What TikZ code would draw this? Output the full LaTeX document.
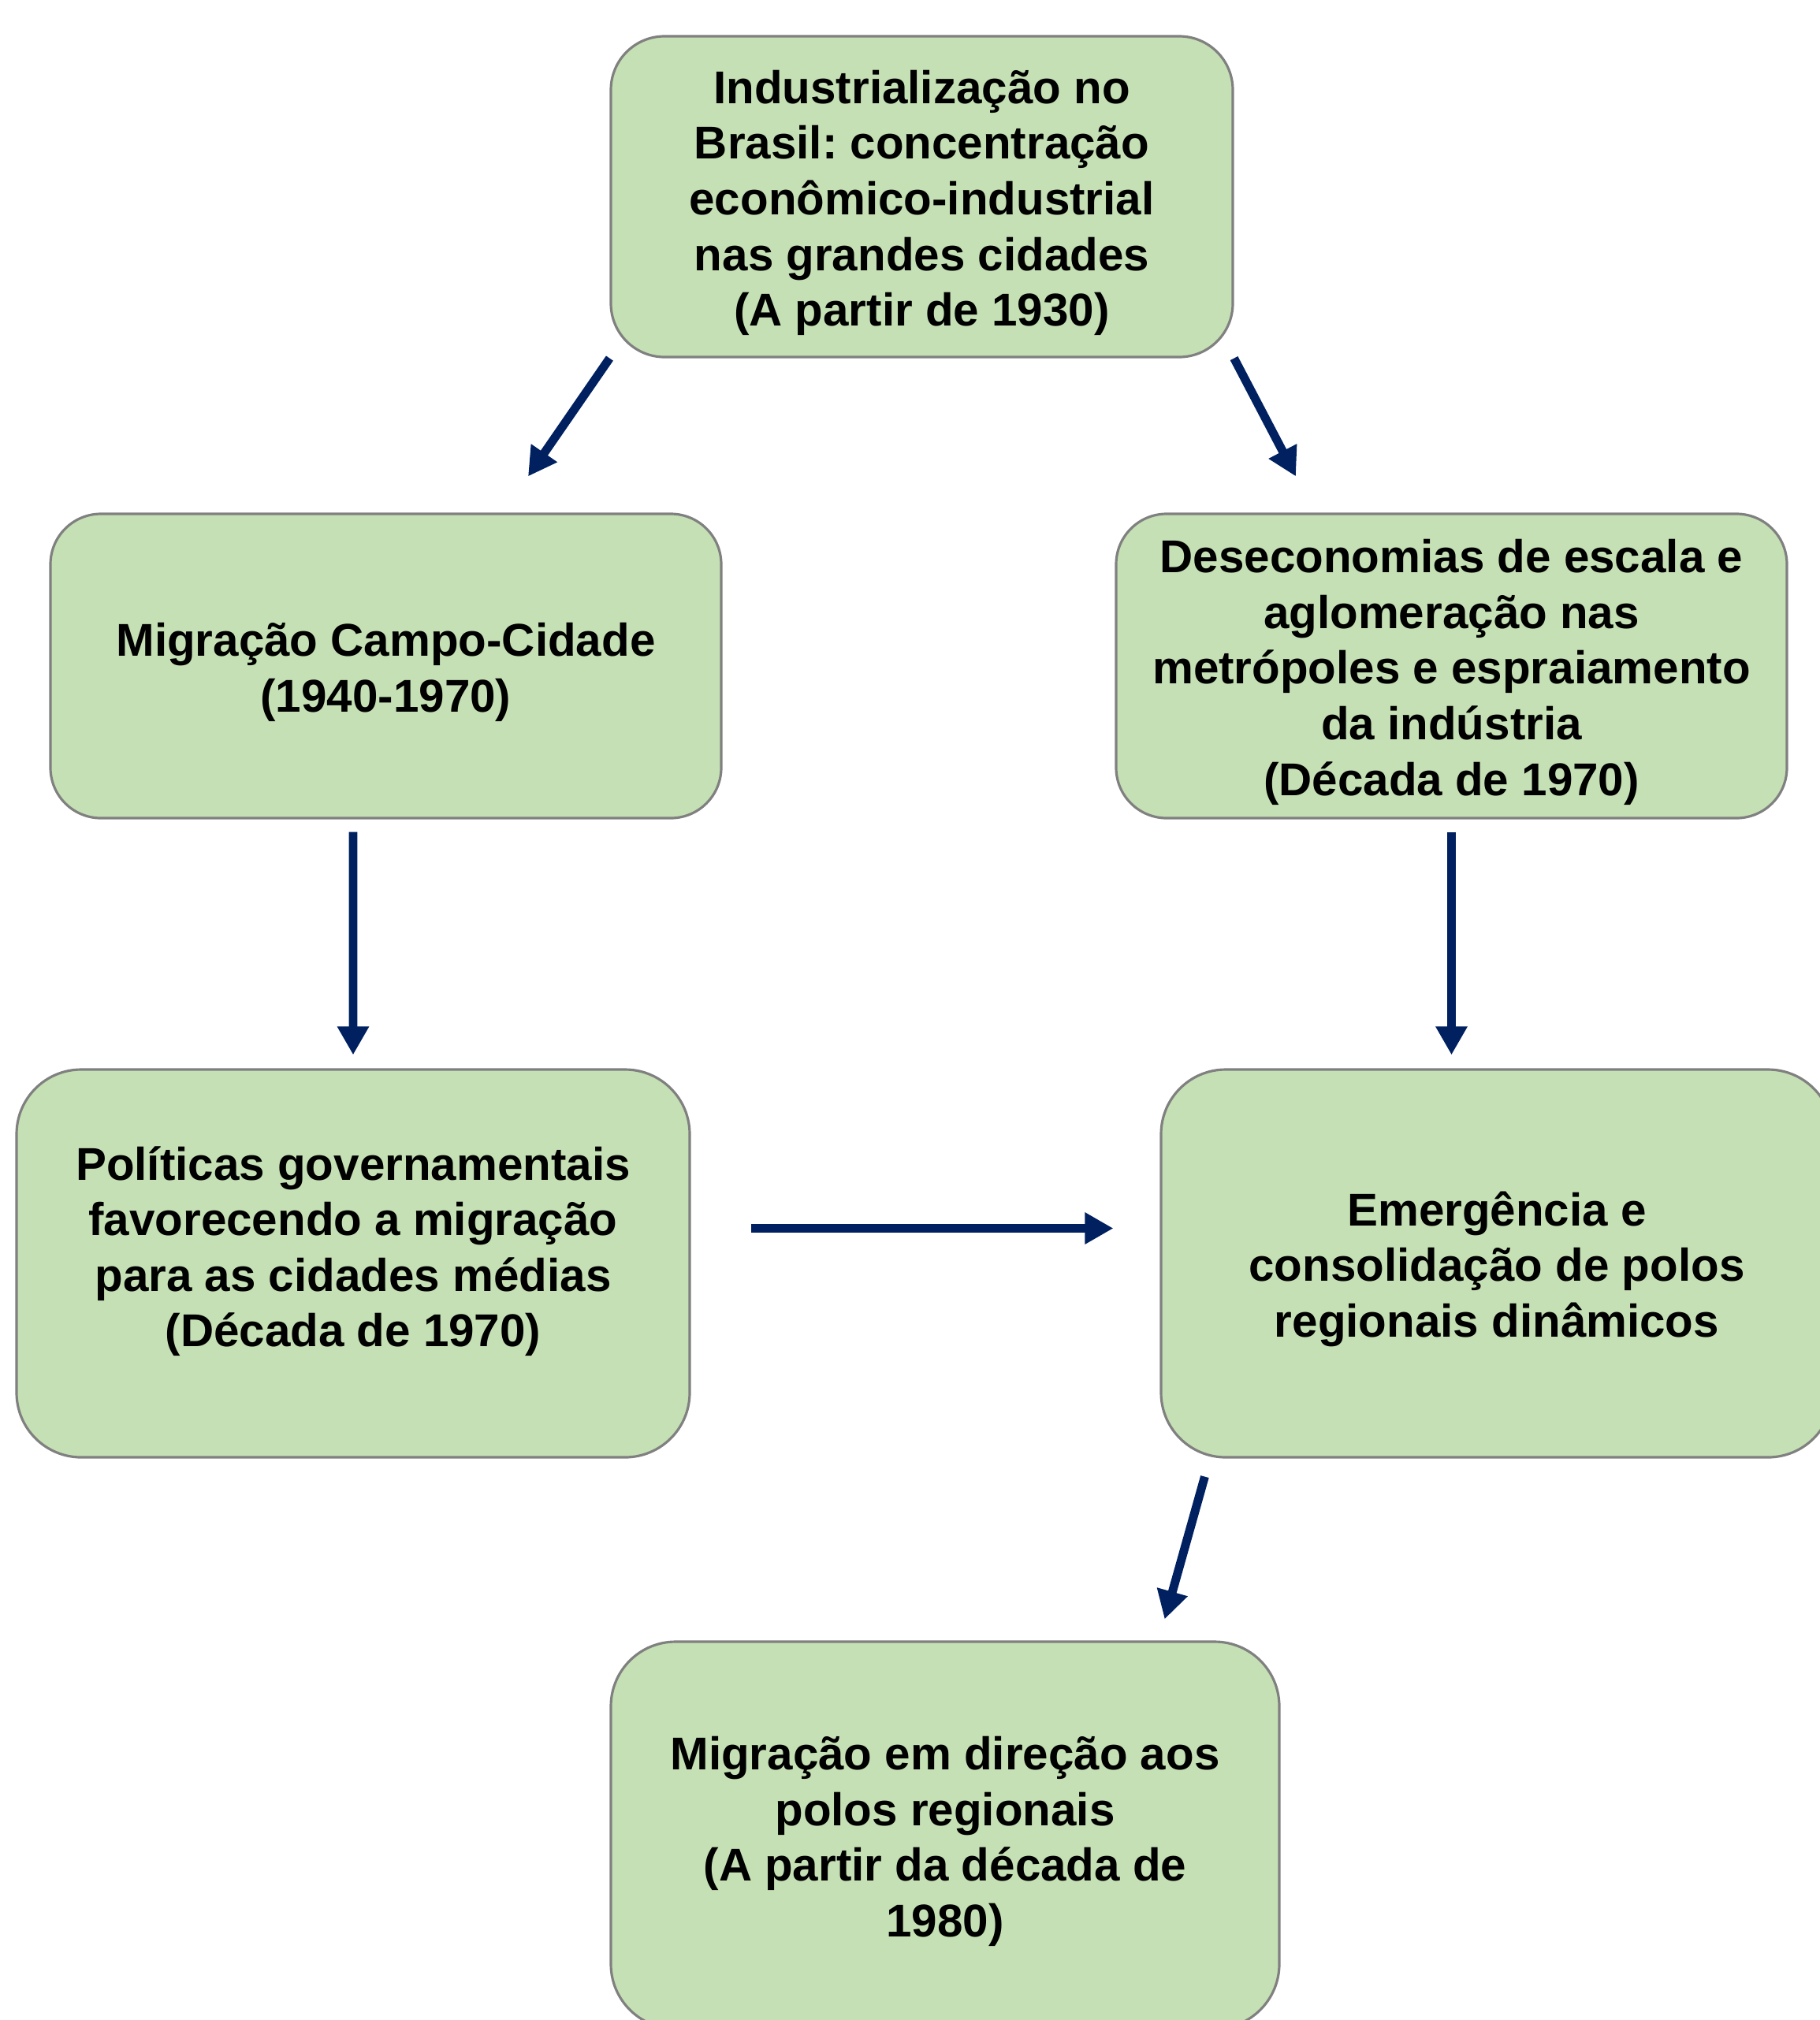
\documentclass[tikz,border=0pt]{standalone}
\usepackage{fontspec}
\setmainfont{Liberation Sans}
\usetikzlibrary{arrows.meta}
\frenchspacing

\definecolor{boxgreen}{RGB}{197,224,180}
\definecolor{boxline}{RGB}{128,128,128}
\definecolor{arrowblue}{RGB}{0,32,96}

\newcommand{\topstrut}{\rule{0pt}{16.5pt}}

\begin{document}
\begin{tikzpicture}[
  box/.style={draw=boxline, line width=0.9pt, fill=boxgreen, align=center, inner sep=0pt,
    font=\fontsize{16.6}{20.1}\selectfont\bfseries},
  flow/.style={draw=arrowblue, line width=3.1pt, -{Triangle[length=0.36cm,width=0.38cm]}}
]
  \useasboundingbox (0,0) rectangle (23.08,-25.63);

  \node[box, minimum width=7.89cm, minimum height=4.07cm, rounded corners=0.68cm] (ind) at (11.695,-2.495)
    {\topstrut Industrialização no\\Brasil: concentração\\econômico-industrial\\nas grandes cidades\\(A partir de 1930)};
  \node[box, minimum width=8.51cm, minimum height=3.86cm, rounded corners=0.64cm] (mig) at (4.895,-8.45)
    {\topstrut Migração Campo-Cidade\\(1940-1970)};
  \node[box, minimum width=8.51cm, minimum height=3.86cm, rounded corners=0.64cm] (des) at (18.415,-8.45)
    {\topstrut Deseconomias de escala e\\aglomeração nas\\metrópoles e espraiamento\\da indústria\\(Década de 1970)};
  \node[box, minimum width=8.54cm, minimum height=4.92cm, rounded corners=0.82cm] (pol) at (4.48,-16.03)
    {\topstrut Políticas governamentais\\favorecendo a migração\\para as cidades médias\\(Década de 1970)\rule[-16.5pt]{0pt}{16.5pt}};
  \node[box, minimum width=8.52cm, minimum height=4.92cm, rounded corners=0.82cm] (eme) at (18.99,-16.03)
    {\topstrut Emergência e\\consolidação de polos\\regionais dinâmicos};
  \node[box, minimum width=8.48cm, minimum height=4.91cm, rounded corners=0.82cm] (pmr) at (11.99,-23.285)
    {\topstrut Migração em direção aos\\polos regionais\\(A partir da década de\\1980)};

  \draw[flow] (ind.south west) -- ([shift={(1.805,0.46)}]mig.north);
  \draw[flow] (ind.south east) -- ([shift={(-1.975,0.46)}]des.north);
  \draw[flow] ([shift={(-0.415,-0.16)}]mig.south) -- ([yshift=0.17cm]pol.north);
  \draw[flow] ([yshift=-0.16cm]des.south) -- ([yshift=0.17cm]des.south |- eme.north);
  \draw[flow] ([shift={(0.76,0.445)}]pol.east) -- ([shift={(-0.59,0.445)}]eme.west);
  \draw[flow] ([shift={(0.57,-0.23)}]eme.south west) -- ([shift={(-1.47,0.27)}]pmr.north east);
\end{tikzpicture}
\end{document}
